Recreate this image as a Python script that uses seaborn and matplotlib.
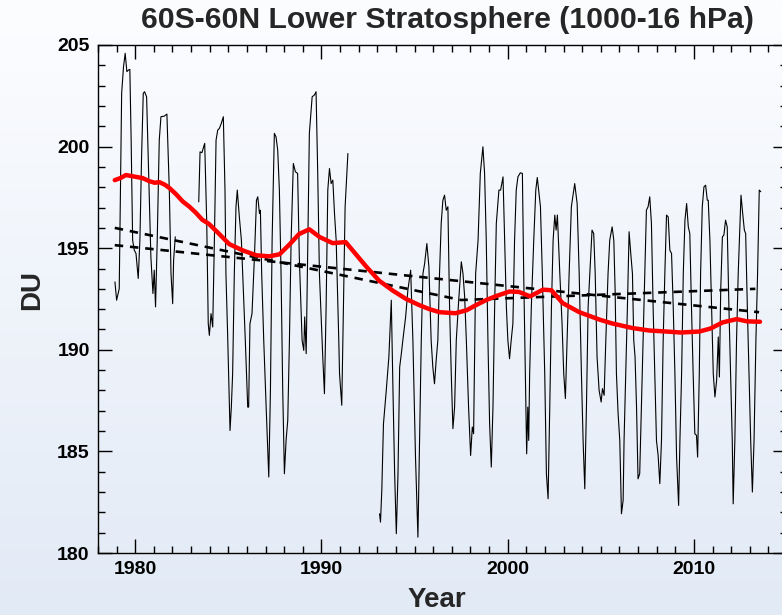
import numpy as np
import pandas as pd
import matplotlib
matplotlib.use("Agg")
import matplotlib.pyplot as plt
import seaborn as sns
from matplotlib.ticker import MultipleLocator

# ---------------- data ----------------
yr1 = [1978.91, 1979.00, 1979.14, 1979.27, 1979.37, 1979.46, 1979.55, 1979.64, 1979.71, 1979.78,
       1979.86, 1979.95, 1980.04, 1980.16, 1980.25, 1980.34, 1980.43, 1980.50, 1980.61, 1980.72,
       1980.84, 1980.95, 1981.02, 1981.09, 1981.18, 1981.29, 1981.38, 1981.56, 1981.70, 1981.83,
       1981.92, 1982.01, 1982.06, 1982.15]
du1 = [193.34, 192.44, 193.01, 202.62, 203.93, 204.59, 203.69, 203.77, 203.80, 200.32,
       195.39, 194.90, 194.74, 193.51, 195.39, 199.50, 202.62, 202.70, 202.45, 198.68,
       194.57, 192.77, 193.92, 192.11, 195.39, 200.32, 201.47, 201.50, 201.60, 197.85,
       193.75, 192.27, 194.41, 195.56]

yr2 = [1983.41, 1983.48, 1983.58, 1983.73, 1983.84, 1983.92, 1983.98, 1984.07, 1984.16, 1984.25,
       1984.34, 1984.43, 1984.52, 1984.62, 1984.73, 1984.82, 1984.87, 1984.96, 1985.09, 1985.16,
       1985.23, 1985.32, 1985.41, 1985.48, 1985.59, 1985.70, 1985.77, 1985.91, 1986.04, 1986.09,
       1986.16, 1986.27, 1986.40, 1986.51, 1986.58, 1986.67, 1986.72, 1986.79, 1986.90, 1987.03,
       1987.17, 1987.26, 1987.35, 1987.47, 1987.56, 1987.65, 1987.74, 1987.83, 1987.92, 1988.01,
       1988.10, 1988.19, 1988.28, 1988.37, 1988.49, 1988.60, 1988.72, 1988.81, 1988.96, 1989.05,
       1989.10, 1989.18, 1989.27, 1989.35, 1989.50, 1989.62, 1989.71, 1989.80, 1989.89, 1990.07,
       1990.16, 1990.25, 1990.34, 1990.43, 1990.52, 1990.61, 1990.70, 1990.79, 1990.93, 1990.97,
       1991.09, 1991.18, 1991.27, 1991.42]
du2 = [197.28, 199.74, 199.70, 200.16, 196.22, 191.29, 190.71, 191.78, 191.12, 195.39,
       200.32, 200.81, 200.90, 201.14, 201.47, 197.85, 193.75, 190.80, 186.03, 187.18,
       188.83, 193.75, 197.04, 197.86, 196.54, 195.39, 193.75, 190.47, 187.18, 187.18,
       191.29, 191.78, 194.57, 197.36, 197.53, 196.71, 196.87, 193.75, 190.47, 187.18,
       183.74, 188.00, 195.39, 200.65, 200.48, 199.83, 197.86, 193.75, 188.00, 183.90,
       185.54, 186.53, 190.47, 195.39, 199.17, 198.76, 198.68, 194.57, 190.47, 189.97,
       191.62, 189.81, 195.39, 200.65, 202.45, 202.54, 202.70, 198.68, 193.75, 189.65,
       187.84, 192.11, 197.86, 198.92, 198.18, 198.35, 196.71, 195.39, 190.47, 188.83,
       187.27, 192.11, 197.04, 199.66]

yr3 = [1993.12, 1993.17, 1993.24, 1993.33, 1993.48, 1993.62, 1993.75, 1993.84, 1993.93, 1994.02,
       1994.11, 1994.20, 1994.29, 1994.37, 1994.52, 1994.64, 1994.79, 1994.91, 1995.05, 1995.18,
       1995.27, 1995.36, 1995.45, 1995.54, 1995.66, 1995.77, 1995.89, 1995.98, 1996.07, 1996.16,
       1996.25, 1996.34, 1996.43, 1996.52, 1996.61, 1996.70, 1996.79, 1996.88, 1996.97, 1997.06,
       1997.15, 1997.24, 1997.37, 1997.51, 1997.60, 1997.69, 1997.78, 1997.90, 1998.01, 1998.10,
       1998.17, 1998.28, 1998.41, 1998.53, 1998.67, 1998.76, 1998.85, 1998.94, 1999.03, 1999.12,
       1999.21, 1999.30, 1999.39, 1999.53, 1999.62, 1999.75, 1999.84, 1999.93, 2000.01, 2000.10,
       2000.19, 2000.28, 2000.37, 2000.46, 2000.55, 2000.68, 2000.79, 2000.86, 2000.95, 2001.02,
       2001.08, 2001.13, 2001.18, 2001.27, 2001.40, 2001.51, 2001.59, 2001.68, 2001.76, 2001.86,
       2001.99, 2002.08, 2002.17, 2002.26, 2002.35, 2002.44, 2002.53, 2002.60, 2002.67, 2002.80,
       2002.92, 2003.01, 2003.10, 2003.19, 2003.30, 2003.42, 2003.60, 2003.73, 2003.84, 2003.96,
       2004.05, 2004.14, 2004.23, 2004.32, 2004.41, 2004.53, 2004.62, 2004.70, 2004.80, 2004.91,
       2005.02, 2005.09, 2005.18, 2005.27, 2005.39, 2005.48, 2005.61, 2005.70, 2005.77, 2005.84,
       2005.93, 2006.02, 2006.11, 2006.20, 2006.25, 2006.34, 2006.43, 2006.52, 2006.61, 2006.70,
       2006.77, 2006.84, 2006.92, 2007.00, 2007.09, 2007.18, 2007.27, 2007.36, 2007.45, 2007.54,
       2007.63, 2007.72, 2007.81, 2007.90, 2007.99, 2008.08, 2008.17, 2008.26, 2008.35, 2008.44,
       2008.53, 2008.62, 2008.71, 2008.80, 2008.89, 2008.98, 2009.07, 2009.18, 2009.25, 2009.34,
       2009.43, 2009.52, 2009.61, 2009.70, 2009.78, 2009.87, 2009.96, 2010.05, 2010.14, 2010.20,
       2010.29, 2010.36, 2010.45, 2010.54, 2010.63, 2010.72, 2010.77, 2010.86, 2010.95, 2011.04,
       2011.13, 2011.22, 2011.31, 2011.37, 2011.44, 2011.53, 2011.61, 2011.70, 2011.79, 2011.88,
       2011.97, 2012.06, 2012.11, 2012.20, 2012.29, 2012.38, 2012.53, 2012.62, 2012.71, 2012.78,
       2012.87, 2012.96, 2013.05, 2013.14, 2013.23, 2013.33, 2013.42, 2013.51, 2013.59]
du3 = [181.93, 181.52, 183.08, 186.36, 188.00, 189.65, 192.44, 188.00, 183.90, 180.95,
       183.90, 189.15, 189.81, 190.47, 191.62, 192.93, 193.92, 190.47, 184.72, 180.78,
       185.54, 190.47, 193.75, 194.24, 195.23, 194.08, 190.47, 189.15, 188.33, 189.48,
       190.47, 193.75, 196.22, 197.36, 197.61, 196.87, 197.04, 192.11, 188.83, 186.12,
       187.18, 190.47, 192.44, 194.33, 193.75, 192.60, 190.47, 187.18, 184.80, 186.20,
       185.87, 193.75, 195.39, 198.68, 199.99, 198.68, 195.39, 190.47, 186.36, 184.23,
       187.18, 192.11, 196.22, 197.86, 197.86, 198.51, 195.39, 192.11, 190.47, 189.56,
       190.47, 191.29, 195.39, 197.86, 198.51, 198.71, 198.68, 193.75, 188.83, 184.88,
       187.18, 185.54, 188.83, 192.11, 195.39, 197.86, 198.48, 197.69, 197.04, 193.75,
       188.83, 183.90, 182.67, 187.18, 192.11, 195.39, 196.63, 195.89, 196.63, 193.75,
       191.29, 188.83, 187.60, 190.47, 193.75, 197.04, 198.18, 197.20, 193.75, 188.83,
       185.54, 183.16, 187.18, 192.11, 193.75, 195.89, 195.72, 193.75, 189.65, 188.00,
       187.43, 188.09, 187.76, 190.47, 193.75, 195.39, 196.05, 195.39, 192.93, 188.83,
       186.86, 185.54, 181.93, 182.59, 185.54, 188.83, 192.11, 195.81, 194.74, 193.75,
       190.47, 189.65, 187.18, 183.65, 183.90, 187.18, 190.47, 193.75, 196.87, 197.04,
       197.53, 196.22, 192.11, 188.83, 185.54, 184.80, 183.41, 185.54, 190.47, 193.75,
       196.63, 196.54, 194.90, 194.74, 192.11, 188.83, 184.72, 182.34, 185.54, 188.83,
       193.75, 196.38, 197.20, 196.05, 195.72, 192.11, 188.83, 185.87, 185.79, 184.72,
       188.83, 193.75, 197.04, 198.02, 198.10, 197.36, 197.36, 195.39, 192.11, 188.83,
       187.68, 188.50, 190.63, 188.66, 192.93, 195.56, 195.64, 196.38, 196.05, 192.11,
       188.83, 185.54, 182.42, 185.54, 190.47, 193.75, 197.61, 196.71, 195.89, 195.72,
       192.11, 188.83, 185.54, 183.00, 185.54, 190.47, 193.75, 197.86, 197.78]

# smoothed series (red)
yr_smooth = [1978.9, 1979.2, 1979.5, 1979.8, 1980.1, 1980.4, 1980.75, 1981.05, 1981.3, 1981.6,
             1981.85, 1982.2, 1982.55, 1982.9, 1983.25, 1983.6, 1983.95, 1984.4, 1985.05, 1985.75,
             1986.5, 1987.2, 1987.75, 1988.3, 1988.8, 1989.35, 1989.9, 1990.6, 1991.3, 1991.85,
             1992.4, 1993.1, 1993.85, 1994.55, 1995.25, 1995.8, 1996.35, 1997.2, 1997.8, 1998.3,
             1998.85, 1999.4, 2000.1, 2000.6, 2001.2, 2001.9, 2002.35, 2002.95, 2003.85, 2004.95,
             2005.6, 2006.7, 2007.6, 2008.5, 2009.3, 2010.3, 2010.9, 2011.55, 2012.3, 2012.85,
             2013.55]
du_smooth = [198.35, 198.45, 198.6, 198.55, 198.5, 198.45, 198.3, 198.22, 198.25, 198.12,
             197.95, 197.65, 197.3, 197.05, 196.75, 196.4, 196.2, 195.8, 195.2, 194.9,
             194.65, 194.6, 194.7, 195.2, 195.7, 195.93, 195.55, 195.25, 195.3, 194.7,
             194.1, 193.4, 192.9, 192.5, 192.2, 192.0, 191.85, 191.8, 191.95, 192.2,
             192.45, 192.65, 192.87, 192.85, 192.63, 192.96, 192.93, 192.3, 191.85, 191.48,
             191.3, 191.07, 190.95, 190.9, 190.85, 190.9, 191.05, 191.35, 191.51, 191.4,
             191.38]

# fitted trends (dashed)
yr_linear = [1978.9, 2013.5]
du_linear = [195.15, 191.85]
yr_hockey = [1978.9, 1997.5, 2013.3]
du_hockey = [196.0, 192.45, 193.0]

# ---------------- build tables ----------------
obs = pd.concat([
    pd.DataFrame({"year": yr1, "du": du1, "seg": 1}),
    pd.DataFrame({"year": yr2, "du": du2, "seg": 2}),
    pd.DataFrame({"year": yr3, "du": du3, "seg": 3}),
], ignore_index=True)
smooth = pd.DataFrame({"year": yr_smooth, "du": du_smooth})
lin = pd.DataFrame({"year": yr_linear, "du": du_linear})
hock = pd.DataFrame({"year": yr_hockey, "du": du_hockey})

# ---------------- style ----------------
sns.set_style("ticks")
plt.rcParams["font.family"] = ["Liberation Sans Narrow", "Liberation Sans", "DejaVu Sans"]
plt.rcParams["font.weight"] = "bold"
plt.rcParams["axes.labelweight"] = "bold"

W, H = 782, 615
fig = plt.figure(figsize=(W / 100, H / 100), dpi=100)

# gradient background
bg = fig.add_axes([0, 0, 1, 1], zorder=-10)
g = np.linspace(0, 1, 256)[:, None, None]
top = np.array([252, 253, 255]) / 255.0
bot = np.array([226, 234, 246]) / 255.0
img = top + (bot - top) * g
bg.imshow(img, aspect="auto", extent=[0, 1, 0, 1], origin="upper")
bg.set_axis_off()

ax = fig.add_axes([98 / W, 62 / H, 689 / W, 508 / H])
ax.set_facecolor("none")

sns.lineplot(data=obs, x="year", y="du", units="seg", estimator=None, sort=False,
             color="black", linewidth=0.8, ax=ax, zorder=2)
sns.lineplot(data=lin, x="year", y="du", color="black", linewidth=1.9,
             linestyle=(0, (3.2, 2.6)), ax=ax, zorder=3)
sns.lineplot(data=hock, x="year", y="du", color="black", linewidth=1.9,
             linestyle=(0, (3.2, 2.6)), ax=ax, zorder=3)
sns.lineplot(data=smooth, x="year", y="du", color="#ff0000", linewidth=3.2,
             ax=ax, zorder=4)

ax.set_xlim(1978, 2015)
ax.set_ylim(180, 205)
ax.xaxis.set_major_locator(MultipleLocator(10))
ax.xaxis.set_minor_locator(MultipleLocator(1))
ax.yaxis.set_major_locator(MultipleLocator(5))
ax.yaxis.set_minor_locator(MultipleLocator(1))
ax.tick_params(which="both", direction="in", top=True, right=True,
               width=1.0, color="black", labelsize=14, labelcolor="black")
ax.tick_params(which="major", length=10, pad=6)
ax.tick_params(which="minor", length=5)
for s in ax.spines.values():
    s.set_linewidth(1.0)
    s.set_color("black")
    s.set_visible(True)

ax.set_xlabel("Year", fontsize=20, fontweight="bold", va="center")
ax.xaxis.set_label_coords((437 - 98) / 689, (553 - 600) / 508)
ax.set_ylabel("DU", fontsize=20, fontweight="bold", va="center")
ax.yaxis.set_label_coords((32 - 98) / 689, (553 - 290) / 508)

fig.text(447 / W, 1 - 20 / H, "60S-60N Lower Stratosphere (1000-16 hPa)",
         ha="center", va="center", fontsize=21.7, fontweight="bold")

fig.savefig("out.png", dpi=100)
